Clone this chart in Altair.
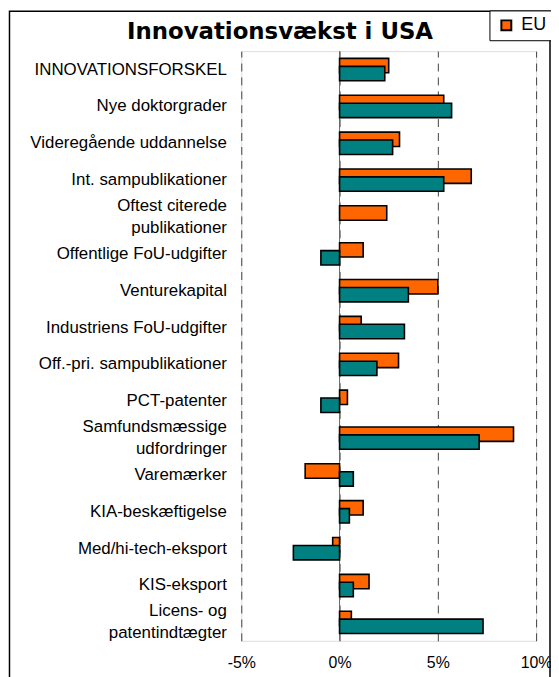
import altair as alt
import pandas as pd

NB = "\u00a0"
categories = [
    "INNOVATIONSFORSKEL",
    "Nye doktorgrader",
    "Videregående uddannelse",
    "Int. sampublikationer",
    "Oftest citerede" + NB * 3 + "|publikationer" + NB * 4,
    "Offentlige FoU-udgifter",
    "Venturekapital",
    "Industriens FoU-udgifter",
    "Off.-pri. sampublikationer",
    "PCT-patenter",
    "Samfundsmæssige" + NB + "|udfordringer" + NB * 7,
    "Varemærker",
    "KIA-beskæftigelse",
    "Med/hi-tech-eksport",
    "KIS-eksport",
    "Licens- og" + NB * 5 + "|patentindtægter",
]
eu = [2.5, 5.3, 3.05, 6.7, 2.4, 1.2, 5.0, 1.1, 3.0, 0.4, 8.85, -1.75, 1.2, -0.35, 1.5, 0.6]
usa = [2.3, 5.7, 2.7, 5.3, None, -0.95, 3.5, 3.3, 1.9, -0.95, 7.1, 0.7, 0.5, -2.35, 0.7, 7.3]
series = ["EU", "USA"]
colors = ["#FF6600", "#008080"]
x_ticks = [-5, 0, 5, 10]
title_text = "Innovationsvækst i USA"

rows = []
for c, e, u in zip(categories, eu, usa):
    rows.append({"kategori": c, "serie": "EU", "vaerdi": e})
    rows.append({"kategori": c, "serie": "USA", "vaerdi": u})
df = pd.DataFrame(rows)

W, H = 297, 594
PL, PT = 235, 41

xscale = alt.Scale(domain=[-5, 10], nice=False, zero=False)
yscale = alt.Scale(domain=categories, paddingInner=0, paddingOuter=0)
cscale = alt.Scale(domain=series, range=colors)

x_enc = alt.X(
    "vaerdi:Q",
    scale=xscale,
    title=None,
    axis=alt.Axis(
        values=x_ticks,
        labelExpr="datum.value + '%'",
        domain=False,
        ticks=False,
        labelFlush=False,
        labelOverlap=False,
        labelPadding=14,
        labelFont="Liberation Sans",
        labelFontSize=16,
        labelColor="black",
        grid=True,
        gridDash=[8, 6],
        gridColor="#444444",
        gridWidth=1,
    ),
)
y_enc = alt.Y(
    "kategori:N",
    scale=yscale,
    sort=categories,
    title=None,
    axis=alt.Axis(
        domain=False,
        ticks=False,
        tickSize=0,
        grid=False,
        labelPadding=15,
        labelFont="Liberation Sans",
        labelFontSize=17,
        labelColor="black",
        labelLineHeight=22,
        labelLimit=400,
        labelExpr="split(datum.label, '|')",
        labelOffset=alt.ExprRef("indexof(datum.value, '|') >= 0 ? -11 : 0"),
    ),
)
fill_enc = alt.Fill(
    "serie:N",
    scale=cscale,
    title=None,
    legend=alt.Legend(
        values=["EU"],
        orient="none",
        legendX=250,
        legendY=-41,
        strokeColor="black",
        fillColor="white",
        padding=6,
        symbolType="square",
        symbolSize=100,
        symbolStrokeColor="black",
        symbolStrokeWidth=2,
        symbolOffset=2,
        labelOffset=6,
        labelFont="Liberation Sans",
        labelFontSize=18,
        labelColor="black",
    ),
)

base = alt.Chart(df)

eu_bars = base.transform_filter(alt.datum.serie == "EU").mark_bar(
    size=14.5, yOffset=-4, stroke="black", strokeWidth=1.6
).encode(x=x_enc, y=y_enc, fill=fill_enc)

usa_bars = base.transform_filter(alt.datum.serie == "USA").mark_bar(
    size=14.5, yOffset=4, stroke="black", strokeWidth=1.6
).encode(x=x_enc, y=y_enc, fill=fill_enc)

zero_df = pd.DataFrame({"nul": [0]})
zero_rule = alt.Chart(zero_df).mark_rule(color="#666666", strokeWidth=1).encode(
    x=alt.X("nul:Q", scale=xscale)
)

one = pd.DataFrame({"t": [title_text]})
frame = alt.Chart(one).mark_rect(
    fillOpacity=0, stroke="black", strokeWidth=1.5
).encode(
    x=alt.value(-PL + 1.5), x2=alt.value(546 - PL), y=alt.value(-PT + 0.75), y2=alt.value(H + 200)
)
title = alt.Chart(one).mark_text(
    font="DejaVu Sans", fontSize=23, fontWeight="bold", color="black",
    align="center", baseline="alphabetic"
).encode(text="t:N", x=alt.value(39), y=alt.value(-12))

chart = alt.layer(frame, zero_rule, eu_bars, usa_bars, title).properties(
    width=W,
    height=H,
    autosize=alt.AutoSizeParams(type="none"),
    padding={"left": PL, "top": PT, "right": 15, "bottom": 34},
).configure_view(stroke=None).configure(background="white")

chart.save("out.html", embed_options={"renderer": "svg", "actions": False})
